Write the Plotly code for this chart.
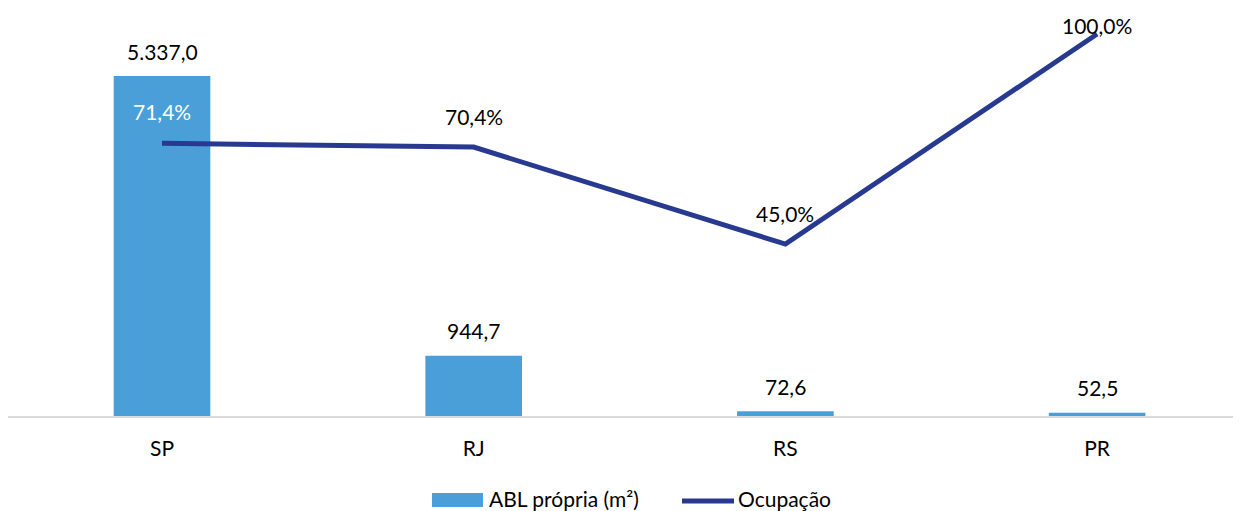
import plotly.graph_objects as go

categories = ["SP", "RJ", "RS", "PR"]
abl_propria = [5337.0, 944.7, 72.6, 52.5]
ocupacao = [0.714, 0.704, 0.450, 1.000]
series_names = ["ABL própria (m²)", "Ocupação"]

BAR_COLOR = "#4A9FD8"
LINE_COLOR = "#283A8F"
FONT = "Lato"
FS = 21

OFF = 8  # page body margin offset
W, H = 1241 - OFF, 511 - OFF
ML, MR, MT, MB = 0, 0, 0, 95
PW, PH = W - ML - MR, H - MT - MB


def px_x(px):
    return (px - OFF - ML) / PW


def px_y(py):
    return (MT + PH - (py - OFF)) / PH


def br_num(v):
    s = f"{v:,.1f}"
    return s.replace(",", "#").replace(".", ",").replace("#", ".")


def br_pct(v):
    return f"{v * 100:.1f}%".replace(".", ",")


fig = go.Figure()
fig.add_trace(go.Bar(x=categories, y=abl_propria, name=series_names[0],
                     marker=dict(color=BAR_COLOR, line=dict(width=0)),
                     width=0.31, showlegend=False))
fig.add_trace(go.Scatter(x=categories, y=ocupacao, name=series_names[1], yaxis="y2",
                         mode="lines", line=dict(color=LINE_COLOR, width=5),
                         showlegend=False))

annotations = []
for c, v in zip(categories, abl_propria):
    annotations.append(dict(x=c, y=v, xref="x", yref="y", text=br_num(v), showarrow=False,
                            yshift=25, font=dict(family=FONT, size=FS, color="#000000")))
line_shifts = [32, 31, 31, 9]
line_colors = ["#FFFFFF", "#000000", "#000000", "#000000"]
for c, v, s, col in zip(categories, ocupacao, line_shifts, line_colors):
    annotations.append(dict(x=c, y=v, xref="x", yref="y2", text=br_pct(v), showarrow=False,
                            yshift=s, font=dict(family=FONT, size=FS, color=col)))

# manual legend
annotations.append(dict(x=px_x(487), y=px_y(498), xref="paper", yref="paper", xanchor="left",
                        yanchor="middle", text=series_names[0], showarrow=False,
                        font=dict(family=FONT, size=FS, color="#000000")))
annotations.append(dict(x=px_x(736), y=px_y(498), xref="paper", yref="paper", xanchor="left",
                        yanchor="middle", text=series_names[1], showarrow=False,
                        font=dict(family=FONT, size=FS, color="#000000")))
shapes = [
    dict(type="rect", xref="paper", yref="paper", x0=px_x(432), x1=px_x(483),
         y0=px_y(507), y1=px_y(493), fillcolor=BAR_COLOR, line=dict(width=0)),
    dict(type="line", xref="paper", yref="paper", x0=px_x(682), x1=px_x(734),
         y0=px_y(501), y1=px_y(501), line=dict(color=LINE_COLOR, width=5)),
]

cat0_local = 162 - OFF - ML
unit = 311.7
fig.update_layout(
    width=W, height=H,
    margin=dict(l=ML, r=MR, t=MT, b=MB, pad=0),
    paper_bgcolor="white", plot_bgcolor="white",
    font=dict(family=FONT, size=FS, color="#000000"),
    xaxis=dict(type="category", categoryorder="array", categoryarray=categories,
               range=[-cat0_local / unit, (PW - cat0_local) / unit],
               showline=True, linecolor="#D9D9D9", linewidth=2,
               ticks="", showgrid=False, zeroline=False, ticklabelstandoff=13,
               tickfont=dict(family=FONT, size=FS, color="#000000")),
    yaxis=dict(range=[0, PH * 5337.0 / 340], visible=False, showgrid=False, zeroline=False),
    yaxis2=dict(range=[0, PH / 382], overlaying="y", side="right", visible=False,
                showgrid=False, zeroline=False),
    annotations=annotations,
    shapes=shapes,
    showlegend=False,
)

fig.write_html("out.html")
